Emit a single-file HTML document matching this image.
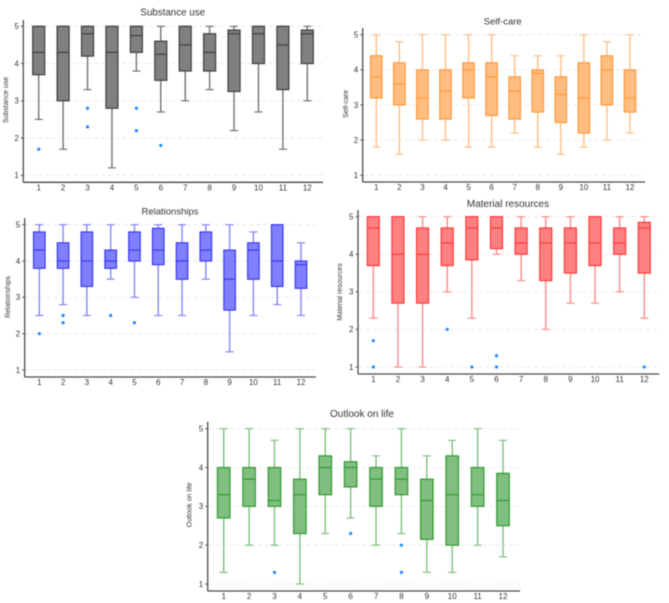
<!DOCTYPE html>
<html lang="en">
<head>
<meta charset="utf-8">
<title>Box plots by month</title>
<style>
  html, body { margin: 0; padding: 0; background: #fff; }
  #figure { display: block; width: 669px; height: 603px; font-family: "Liberation Sans", sans-serif; }
  .blurred { filter: blur(0.45px); }
</style>
</head>
<body>
<svg id="figure" width="669" height="603" viewBox="0 0 669 603" xmlns="http://www.w3.org/2000/svg"></svg>
<script>
// Shared axis values
const categories = ['1','2','3','4','5','6','7','8','9','10','11','12'];
const yTickValues = [1,2,3,4,5];

// Substance use
const substanceLow  = [2.5,1.7,3.3,1.2,3.8,2.7,3.0,3.3,2.2,2.7,1.7,3.0];
const substanceQ1   = [3.7,3.0,4.2,2.8,4.3,3.55,3.8,3.8,3.25,4.0,3.3,4.0];
const substanceMed  = [4.3,4.3,4.8,4.3,4.75,4.25,4.5,4.3,4.8,4.8,4.5,4.8];
const substanceQ3   = [5,5,5,5,5,4.6,5,4.8,4.9,5,5,4.9];
const substanceHigh = [5,5,5,5,5,5,5,5,5,5,5,5];
const substanceOut  = [[1.7],[],[2.8,2.3],[],[2.8,2.2],[1.8],[],[],[],[],[],[]];

// Self-care
const selfCareLow  = [1.8,1.6,2.0,2.0,1.8,1.8,2.2,1.8,1.6,1.8,2.0,2.2];
const selfCareQ1   = [3.2,3.0,2.6,2.6,3.2,2.7,2.6,2.8,2.5,2.2,3.0,2.8];
const selfCareMed  = [3.8,3.6,3.2,3.4,4.0,3.8,3.4,3.9,3.3,3.2,4.0,3.2];
const selfCareQ3   = [4.4,4.2,4.0,4.0,4.2,4.2,3.8,4.0,3.8,4.2,4.4,4.0];
const selfCareHigh = [5,4.8,5,5,5,5,4.4,4.4,4.4,5,4.8,5];
const selfCareOut  = [[],[],[],[],[],[],[],[],[],[],[],[]];

// Relationships
const relationsLow  = [2.5,2.8,2.5,3.5,3.0,2.5,2.5,3.5,1.5,2.5,2.8,2.5];
const relationsQ1   = [3.8,3.8,3.3,3.8,4.0,3.9,3.5,4.0,2.65,3.5,3.3,3.25];
const relationsMed  = [4.3,4.0,4.0,4.0,4.3,4.3,4.0,4.3,3.5,4.3,4.0,3.9];
const relationsQ3   = [4.8,4.5,4.8,4.3,4.8,4.9,4.5,4.8,4.3,4.5,5,4.0];
const relationsHigh = [5,5,5,5,5,5,5,5,5,4.8,5,4.5];
const relationsOut  = [[2.0],[2.5,2.3],[],[2.5],[2.3],[],[],[],[],[],[],[]];

// Material resources
const materialLow  = [2.3,1.0,1.0,3.0,2.3,4.0,3.3,2.0,2.7,2.7,3.0,2.3];
const materialQ1   = [3.7,2.7,2.7,3.7,3.85,4.15,4.0,3.3,3.5,3.7,4.0,3.5];
const materialMed  = [4.7,4.0,4.0,4.3,4.7,4.7,4.3,4.3,4.3,4.3,4.3,4.7];
const materialQ3   = [5,5,4.7,4.7,5,5,4.7,4.7,4.7,5,4.7,4.85];
const materialHigh = [5,5,5,5,5,5,5,5,5,5,5,5];
const materialOut  = [[1.7,1.0],[],[],[2.0],[1.0],[1.3,1.0],[],[],[],[],[],[1.0]];

// Outlook on life
const outlookLow  = [1.3,2.0,2.0,1.0,2.3,2.7,2.0,2.3,1.3,1.3,2.0,1.7];
const outlookQ1   = [2.7,3.0,3.0,2.3,3.3,3.5,3.0,3.3,2.15,2.0,3.0,2.5];
const outlookMed  = [3.3,3.7,3.15,3.3,4.0,4.0,3.7,3.7,3.15,3.3,3.3,3.15];
const outlookQ3   = [4.0,4.0,4.0,3.7,4.3,4.15,4.0,4.0,3.7,4.3,4.0,3.85];
const outlookHigh = [5,5,4.7,5,5,5,4.3,5,4.3,4.7,5,4.7];
const outlookOut  = [[],[],[1.3],[],[],[2.3],[],[2.0,1.3],[],[],[],[]];

const svgNS = 'http://www.w3.org/2000/svg';
const root = document.getElementById('figure');

function make(parent, tag, attrs, text) {
  const el = document.createElementNS(svgNS, tag);
  for (const k in attrs) el.setAttribute(k, attrs[k]);
  if (text !== undefined) el.textContent = text;
  parent.appendChild(el);
  return el;
}

function drawPanel(p) {
  const g = make(root, 'g', { 'class': 'blurred' });
  
  

  const yScale = v => p.y1 + (v - 1) * (p.y5 - p.y1) / 4;
  const xScale = i => p.x1 + i * (p.x12 - p.x1) / (categories.length - 1);

  // gridlines and y ticks
  yTickValues.forEach(t => {
    const y = yScale(t);
    const grid = make(g, 'line', { x1: p.left + 1, x2: p.right, y1: y, y2: y, stroke: '#e6e6e6', 'stroke-width': 0.8, 'stroke-dasharray': '4 3' });
    
    
    const tick = make(g, 'line', { x1: p.left - 2.5, x2: p.left, y1: y, y2: y, stroke: '#555', 'stroke-width': 1 });
    
    
    const lab = make(g, 'text', { x: p.left - 4.5, y: y + 2.8, 'text-anchor': 'end', 'font-size': 8, fill: '#333' }, String(t));
    
    
  });

  // boxes
  const boxW = p.boxW, capW = 8;
  categories.forEach((c, i) => {
    const x = xScale(i);
    const box = make(g, 'g', {});
    
    
    const yLow = yScale(p.low[i]), yQ1 = yScale(p.q1[i]), yMed = yScale(p.med[i]), yQ3 = yScale(p.q3[i]), yHigh = yScale(p.high[i]);
    make(box, 'line', { x1: x, x2: x, y1: yQ1, y2: yLow, stroke: p.whisker, 'stroke-width': 1.4 });
    make(box, 'line', { x1: x, x2: x, y1: yQ3, y2: yHigh, stroke: p.whisker, 'stroke-width': 1.4 });
    make(box, 'line', { x1: x - capW / 2, x2: x + capW / 2, y1: yLow, y2: yLow, stroke: p.whisker, 'stroke-width': 1.2 });
    make(box, 'line', { x1: x - capW / 2, x2: x + capW / 2, y1: yHigh, y2: yHigh, stroke: p.whisker, 'stroke-width': 1.2 });
    make(box, 'rect', { x: x - boxW / 2, y: yQ3, width: boxW, height: yQ1 - yQ3, fill: p.fill, stroke: p.stroke, 'stroke-width': 1.2 });
    make(box, 'line', { x1: x - boxW / 2, x2: x + boxW / 2, y1: yMed, y2: yMed, stroke: p.stroke, 'stroke-width': 1.2 });
    p.out[i].forEach(v => {
      const dot = make(g, 'circle', { cx: x, cy: yScale(v), r: 1.6, fill: '#1e88ff' });
      
      
    });
    const lab = make(g, 'text', { x: x, y: p.bottom + 8, 'text-anchor': 'middle', 'font-size': 8, fill: '#333' }, c);
    
    
  });

  // axes
  const yAxis = make(g, 'line', { x1: p.left, x2: p.left, y1: p.top, y2: p.bottom, stroke: '#4a4a4a', 'stroke-width': 1.3 });
  
  
  const xAxis = make(g, 'line', { x1: p.left, x2: p.right, y1: p.bottom, y2: p.bottom, stroke: '#4a4a4a', 'stroke-width': 1.3 });
  
  

  // titles
  const title = make(g, 'text', { x: p.titleX, y: p.titleY, 'text-anchor': 'middle', 'font-size': p.titleSize, fill: '#333' }, p.title);
  
  
  const yTitle = make(g, 'text', { transform: 'translate(' + p.yTitleX + ',' + p.yTitleY + ') rotate(-90)', 'text-anchor': 'middle', 'font-size': 7, fill: '#333' }, p.title);
  
  
}

drawPanel({ key: 'substance-use', title: 'Substance use', titleX: 172.7, titleY: 15.5, titleSize: 9.8, yTitleX: 8, yTitleY: 100,
  left: 23.3, right: 323, top: 20, bottom: 182.3, y5: 26.3, y1: 175.3, x1: 38.7, x12: 307.3, boxW: 12,
  fill: '#808080', stroke: '#3f3f3f', whisker: '#737373',
  low: substanceLow, q1: substanceQ1, med: substanceMed, q3: substanceQ3, high: substanceHigh, out: substanceOut });

drawPanel({ key: 'self-care', title: 'Self-care', titleX: 502.7, titleY: 24.5, titleSize: 9.5, yTitleX: 348, yTitleY: 104,
  left: 362.7, right: 645, top: 28, bottom: 182, y5: 34.7, y1: 175.3, x1: 376.3, x12: 630, boxW: 11.5,
  fill: '#ffbd80', stroke: '#ff9a3d', whisker: '#ffbf85',
  low: selfCareLow, q1: selfCareQ1, med: selfCareMed, q3: selfCareQ3, high: selfCareHigh, out: selfCareOut });

drawPanel({ key: 'relationships', title: 'Relationships', titleX: 170, titleY: 214.5, titleSize: 9.5, yTitleX: 10, yTitleY: 297,
  left: 24.7, right: 316, top: 218, bottom: 377, y5: 224.7, y1: 370, x1: 39.3, x12: 301, boxW: 11.5,
  fill: '#8080ff', stroke: '#3a3af0', whisker: '#8585fa',
  low: relationsLow, q1: relationsQ1, med: relationsMed, q3: relationsQ3, high: relationsHigh, out: relationsOut });

drawPanel({ key: 'material-resources', title: 'Material resources', titleX: 508, titleY: 207, titleSize: 10, yTitleX: 342, yTitleY: 292,
  left: 358, right: 659.3, top: 210, bottom: 374, y5: 216.7, y1: 367, x1: 373.3, x12: 644.3, boxW: 12,
  fill: '#ff8080', stroke: '#ff3b3b', whisker: '#ff8a8a',
  low: materialLow, q1: materialQ1, med: materialMed, q3: materialQ3, high: materialHigh, out: materialOut });

drawPanel({ key: 'outlook-on-life', title: 'Outlook on life', titleX: 362, titleY: 417, titleSize: 10, yTitleX: 191.5, yTitleY: 505,
  left: 207.7, right: 520, top: 421.7, bottom: 591, y5: 428.7, y1: 584, x1: 223.7, x12: 503, boxW: 12.5,
  fill: '#80bf80', stroke: '#339933', whisker: '#80bf80',
  low: outlookLow, q1: outlookQ1, med: outlookMed, q3: outlookQ3, high: outlookHigh, out: outlookOut });
</script>
</body>
</html>
